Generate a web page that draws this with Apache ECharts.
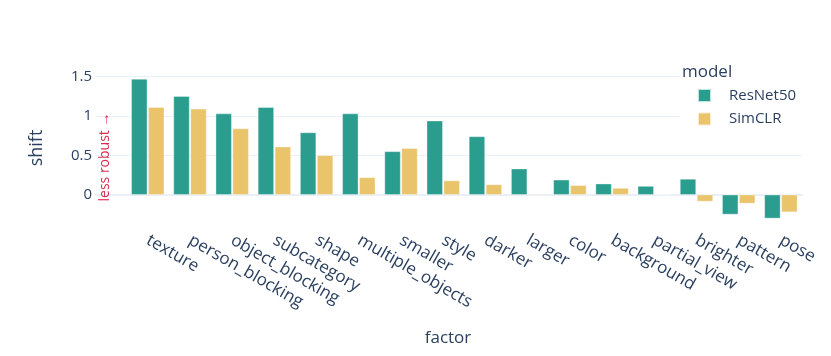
<!DOCTYPE html>
<html>
<head>
<meta charset="utf-8">
<script src="https://cdn.jsdelivr.net/npm/echarts@6/dist/echarts.min.js"></script>
<style>
  html, body { margin: 0; padding: 0; background: #fff; }
  #chart { width: 831px; height: 356px; }
</style>
</head>
<body>
<div id="chart"></div>
<script>
// factors on the x axis
const categories = ['texture', 'person_blocking', 'object_blocking', 'subcategory', 'shape',
  'multiple_objects', 'smaller', 'style', 'darker', 'larger', 'color', 'background',
  'partial_view', 'brighter', 'pattern', 'pose'];
// shift per model
const resnet50 = [1.47, 1.25, 1.03, 1.11, 0.79, 1.03, 0.55, 0.94, 0.74, 0.33, 0.19, 0.14, 0.11, 0.20, -0.25, -0.30];
const simclr = [1.11, 1.09, 0.84, 0.61, 0.50, 0.22, 0.59, 0.18, 0.13, 0.01, 0.12, 0.085, 0.0, -0.085, -0.11, -0.22];
const yTicks = [0, 0.5, 1, 1.5];

const textColor = '#2a3f5f';
const font = '"Open Sans", verdana, arial, sans-serif';
const gridColor = '#ebf0f8';

const chart = echarts.init(document.getElementById('chart'));

const toPoints = (vals) => vals.map((v, i) => [i, v]);

chart.setOption({
  animation: false,
  backgroundColor: '#fff',
  textStyle: { fontFamily: font, color: textColor },
  grid: { left: 95, right: 29, top: 72, bottom: 131 },
  legend: {
    orient: 'vertical',
    left: 680,
    top: 58,
    padding: [30, 20, 8, 17],
    backgroundColor: '#fff',
    icon: 'rect',
    itemWidth: 13,
    itemHeight: 13,
    itemGap: 8.5,
    textStyle: { fontSize: 15, lineHeight: 13, color: textColor, fontFamily: font, padding: [0, 0, 0, 13] },
    data: ['ResNet50', 'SimCLR']
  },
  xAxis: [
    {
      type: 'value',
      min: -1.25,
      max: 15.5,
      axisLine: { show: false, onZero: false },
      axisTick: { show: false, customValues: categories.map((c, i) => i) },
      splitLine: { show: false },
      axisLabel: {
        customValues: categories.map((c, i) => i),
        formatter: (v) => categories[v],
        rotate: -30,
        margin: 14,
        fontSize: 17,
        color: textColor,
        fontFamily: font
      }
    },
    {
      // zero line
      type: 'value',
      min: -1.25,
      max: 15.5,
      position: 'bottom',
      axisLine: { show: true, onZero: true, lineStyle: { color: gridColor, width: 2 } },
      axisTick: { show: false },
      axisLabel: { show: false },
      splitLine: { show: false }
    }
  ],
  yAxis: {
    type: 'value',
    min: -0.384,
    max: 1.558,
    axisLine: { show: false },
    axisTick: { show: false, customValues: yTicks },
    splitLine: { lineStyle: { color: gridColor, width: 1 } },
    axisLabel: {
      customValues: yTicks,
      formatter: (v) => String(v),
      margin: 3,
      fontSize: 15,
      color: textColor,
      fontFamily: font
    }
  },
  series: [
    {
      name: 'ResNet50',
      type: 'bar',
      data: toPoints(resnet50),
      barWidth: 16,
      barGap: '6%',
      itemStyle: { color: '#2a9d8f', borderColor: 'rgba(255,255,255,0.7)', borderWidth: 0.5 }
    },
    {
      name: 'SimCLR',
      type: 'bar',
      data: toPoints(simclr),
      barWidth: 16,
      barGap: '6%',
      itemStyle: { color: '#e9c46a', borderColor: 'rgba(255,255,255,0.7)', borderWidth: 0.5 }
    }
  ],
  graphic: [
    {
      type: 'text', x: 37, y: 148, rotation: Math.PI / 2, z: 100,
      style: { text: 'shift', font: '18px ' + font, fill: textColor, align: 'center', verticalAlign: 'middle' }
    },
    {
      type: 'text', x: 105, y: 157, rotation: Math.PI / 2, z: 100,
      style: { text: 'less robust →', font: '14px ' + font, fill: '#d6304f', align: 'center', verticalAlign: 'middle' }
    },
    {
      type: 'text', x: 448, y: 338, z: 100,
      style: { text: 'factor', font: '17px ' + font, fill: textColor, align: 'center', verticalAlign: 'middle' }
    },
    {
      type: 'text', x: 682, y: 72, z: 100,
      style: { text: 'model', font: '17px ' + font, fill: textColor, align: 'left', verticalAlign: 'middle' }
    }
  ]
});
</script>
</body>
</html>
